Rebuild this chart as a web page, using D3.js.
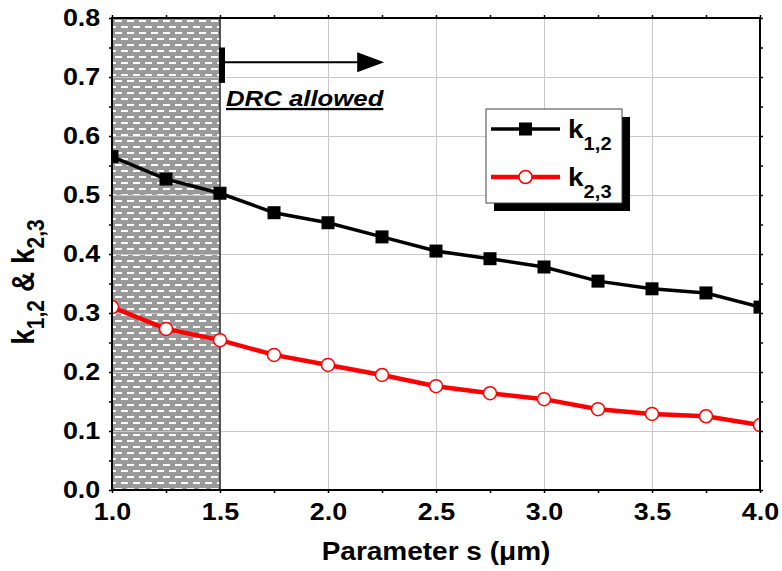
<!DOCTYPE html>
<html>
<head>
<meta charset="utf-8">
<script src="https://cdn.jsdelivr.net/npm/d3@7"></script>
<style>
body { margin: 0; background: #fff; }
svg text { font-family: "Liberation Sans", Arial, sans-serif; font-weight: bold; fill: #000; }
</style>
</head>
<body>
<svg id="chart" width="782" height="571"></svg>
<script>
// values
var sValues = [1.0, 1.25, 1.5, 1.75, 2.0, 2.25, 2.5, 2.75, 3.0, 3.25, 3.5, 3.75, 4.0];
var k12 = [0.565, 0.527, 0.503, 0.470, 0.453, 0.429, 0.405, 0.392, 0.378, 0.354, 0.341, 0.334, 0.310];
var k23 = [0.310, 0.273, 0.254, 0.229, 0.212, 0.195, 0.176, 0.164, 0.154, 0.137, 0.129, 0.125, 0.110];
var xTicks = [1.0, 1.5, 2.0, 2.5, 3.0, 3.5, 4.0];
var yTicks = [0.0, 0.1, 0.2, 0.3, 0.4, 0.5, 0.6, 0.7, 0.8];
var drcLimit = 1.5;

var svg = d3.select("#chart"),
    margin = {top: 18, right: 22, bottom: 81, left: 112},
    width = +svg.attr("width") - margin.left - margin.right,
    height = +svg.attr("height") - margin.top - margin.bottom;

var sx = 1.12; // glyphs in the figure are a bit wide

var x = d3.scaleLinear().domain([1, 4]).range([0, width]),
    y = d3.scaleLinear().domain([0, 0.8]).range([height, 0]);

var defs = svg.append("defs");
var pat = defs.append("pattern")
    .attr("id", "hatch")
    .attr("patternUnits", "userSpaceOnUse")
    .attr("x", margin.left).attr("y", margin.top)
    .attr("width", 12).attr("height", 12);
pat.append("rect").attr("width", 12).attr("height", 12).attr("fill", "#999");
pat.append("rect").attr("x", 5).attr("y", 2).attr("width", 7).attr("height", 2).attr("fill", "#fff");
pat.append("rect").attr("x", -1).attr("y", 8).attr("width", 7).attr("height", 2).attr("fill", "#fff");
pat.append("rect").attr("x", 11).attr("y", 8).attr("width", 7).attr("height", 2).attr("fill", "#fff");

defs.append("clipPath").attr("id", "plotclip")
  .append("rect").attr("width", width).attr("height", height);

var g = svg.append("g").attr("transform", "translate(" + margin.left + "," + margin.top + ")");

// shaded (not allowed) region
g.append("rect")
    .attr("x", 0).attr("y", 0)
    .attr("width", x(drcLimit)).attr("height", height)
    .attr("fill", "url(#hatch)");

// grid
g.append("g").selectAll("line.gy")
    .data(yTicks.slice(1, -1))
    .enter().append("line")
    .attr("x1", 0).attr("x2", width)
    .attr("y1", function(d) { return Math.round(y(d)) + 0.5; })
    .attr("y2", function(d) { return Math.round(y(d)) + 0.5; })
    .attr("stroke", "#c8c8c8").attr("stroke-width", 1);
g.append("g").selectAll("line.gx")
    .data(xTicks.slice(1, -1))
    .enter().append("line")
    .attr("y1", 0).attr("y2", height)
    .attr("x1", function(d) { return Math.round(x(d)) + 0.5; })
    .attr("x2", function(d) { return Math.round(x(d)) + 0.5; })
    .attr("stroke", "#c8c8c8").attr("stroke-width", 1);

g.append("line")
    .attr("x1", x(drcLimit)).attr("x2", x(drcLimit))
    .attr("y1", 0).attr("y2", height)
    .attr("stroke", "#333").attr("stroke-width", 1.5);

// series
var plot = g.append("g").attr("clip-path", "url(#plotclip)");
var line = d3.line()
    .x(function(d) { return x(d[0]); })
    .y(function(d) { return y(d[1]); });

var s12 = sValues.map(function(s, i) { return [s, k12[i]]; });
var s23 = sValues.map(function(s, i) { return [s, k23[i]]; });

plot.append("path").datum(s12)
    .attr("d", line).attr("fill", "none")
    .attr("stroke", "#000").attr("stroke-width", 3.5);
plot.append("path").datum(s23)
    .attr("d", line).attr("fill", "none")
    .attr("stroke", "#ff0000").attr("stroke-width", 4.5);

plot.selectAll(".sq").data(s12)
  .enter().append("rect")
    .attr("class", "sq")
    .attr("x", function(d) { return x(d[0]) - 6.5; })
    .attr("y", function(d) { return y(d[1]) - 6.5; })
    .attr("width", 13).attr("height", 13)
    .attr("fill", "#000");
plot.selectAll(".ci").data(s23)
  .enter().append("circle")
    .attr("class", "ci")
    .attr("cx", function(d) { return x(d[0]); })
    .attr("cy", function(d) { return y(d[1]); })
    .attr("r", 6.5)
    .attr("fill", "#fff").attr("stroke", "#ff0000").attr("stroke-width", 1.5);

// axes
var xAxis = d3.axisBottom(x).tickValues(xTicks).tickFormat(d3.format(".1f")).tickSize(0).tickPadding(13),
    yAxis = d3.axisLeft(y).tickValues(yTicks).tickFormat(d3.format(".1f")).tickSize(0).tickPadding(10.5);

var minorX = d3.range(1, 4.01, 0.25), minorY = d3.range(0, 0.801, 0.05);

function minor(a) { a.select(".domain").remove(); a.selectAll("line").attr("stroke-width", 1.5); }
g.append("g").attr("transform", "translate(0," + height + ")")
    .call(d3.axisBottom(x).tickValues(minorX).tickSize(3).tickFormat(""))
    .call(minor);
g.append("g")
    .call(d3.axisTop(x).tickValues(minorX).tickSize(3).tickFormat(""))
    .call(minor);
g.append("g")
    .call(d3.axisLeft(y).tickValues(minorY).tickSize(3).tickFormat(""))
    .call(minor);
g.append("g").attr("transform", "translate(" + width + ",0)")
    .call(d3.axisRight(y).tickValues(minorY).tickSize(3).tickFormat(""))
    .call(minor);

g.append("rect")
    .attr("width", width).attr("height", height)
    .attr("fill", "none").attr("stroke", "#000").attr("stroke-width", 2);

g.append("g").attr("class", "axis axis--x")
    .attr("transform", "translate(0," + height + ")")
    .call(xAxis)
    .call(function(a) { a.select(".domain").remove(); });
g.append("g").attr("class", "axis axis--y")
    .call(yAxis)
    .call(function(a) { a.select(".domain").remove(); });

svg.selectAll(".axis text")
    .attr("font-family", null).attr("font-size", null)
    .style("font-size", "24px")
    .attr("transform", "scale(" + sx + ",1)");

// axis titles
svg.append("text")
    .attr("transform", "translate(" + (margin.left + width / 2) + ",560) scale(" + sx + ",1)")
    .attr("text-anchor", "middle")
    .style("font-size", "25px")
    .text("Parameter s (\u03bcm)");

var yt = svg.append("text")
    .attr("transform", "translate(34,282) scale(" + sx + ",1) rotate(-90)")
    .attr("text-anchor", "middle")
    .style("font-size", "28px");
yt.append("tspan").text("k");
yt.append("tspan").attr("dy", 9).style("font-size", "21px").text("1,2");
yt.append("tspan").attr("dy", -9).attr("dx", 8).text("& k");
yt.append("tspan").attr("dy", 9).style("font-size", "21px").text("2,3");

// DRC annotation
var ay = y(0.725);
g.append("rect")
    .attr("x", x(drcLimit) - 1).attr("y", y(0.75))
    .attr("width", 6).attr("height", y(0.69) - y(0.75))
    .attr("fill", "#000");
g.append("line")
    .attr("x1", x(drcLimit) + 5).attr("x2", x(2.2))
    .attr("y1", ay).attr("y2", ay)
    .attr("stroke", "#000").attr("stroke-width", 2);
g.append("path")
    .attr("d", "M" + (x(2.26) - 27) + "," + (ay - 10) + "L" + x(2.26) + "," + ay + "L" + (x(2.26) - 27) + "," + (ay + 10) + "Z")
    .attr("fill", "#000");
g.append("text")
    .attr("transform", "translate(" + (x(drcLimit) + 6) + ",88) scale(" + sx + ",1)")
    .style("font-size", "23px")
    .style("font-style", "italic")
    .style("text-decoration", "underline")
    .text("DRC allowed");

// legend
var legend = svg.append("g").attr("transform", "translate(486,109)");
legend.append("rect").attr("x", 8).attr("y", 8).attr("width", 136).attr("height", 94).attr("fill", "#000");
legend.append("rect").attr("width", 136).attr("height", 94)
    .attr("fill", "#fff").attr("stroke", "#444").attr("stroke-width", 1);

var legendItems = [
    {name: "1,2", color: "#000", marker: "square", sw: 3.5},
    {name: "2,3", color: "#ff0000", marker: "circle", sw: 4.5}
];
legendItems.forEach(function(it, i) {
    var ly = 20 + i * 48;
    legend.append("line").attr("x1", 5).attr("x2", 74).attr("y1", ly).attr("y2", ly)
        .attr("stroke", it.color).attr("stroke-width", it.sw);
    if (it.marker === "square") {
        legend.append("rect").attr("x", 33).attr("y", ly - 6.5).attr("width", 13).attr("height", 13).attr("fill", "#000");
    } else {
        legend.append("circle").attr("cx", 39.5).attr("cy", ly).attr("r", 6.5)
            .attr("fill", "#fff").attr("stroke", "#ff0000").attr("stroke-width", 1.5);
    }
    var t = legend.append("text")
        .attr("transform", "translate(82," + (ly + 9) + ") scale(" + sx + ",1)")
        .style("font-size", "25px");
    t.append("tspan").text("k");
    t.append("tspan").attr("dy", 12).style("font-size", "18px").text(it.name);
});
</script>
</body>
</html>
